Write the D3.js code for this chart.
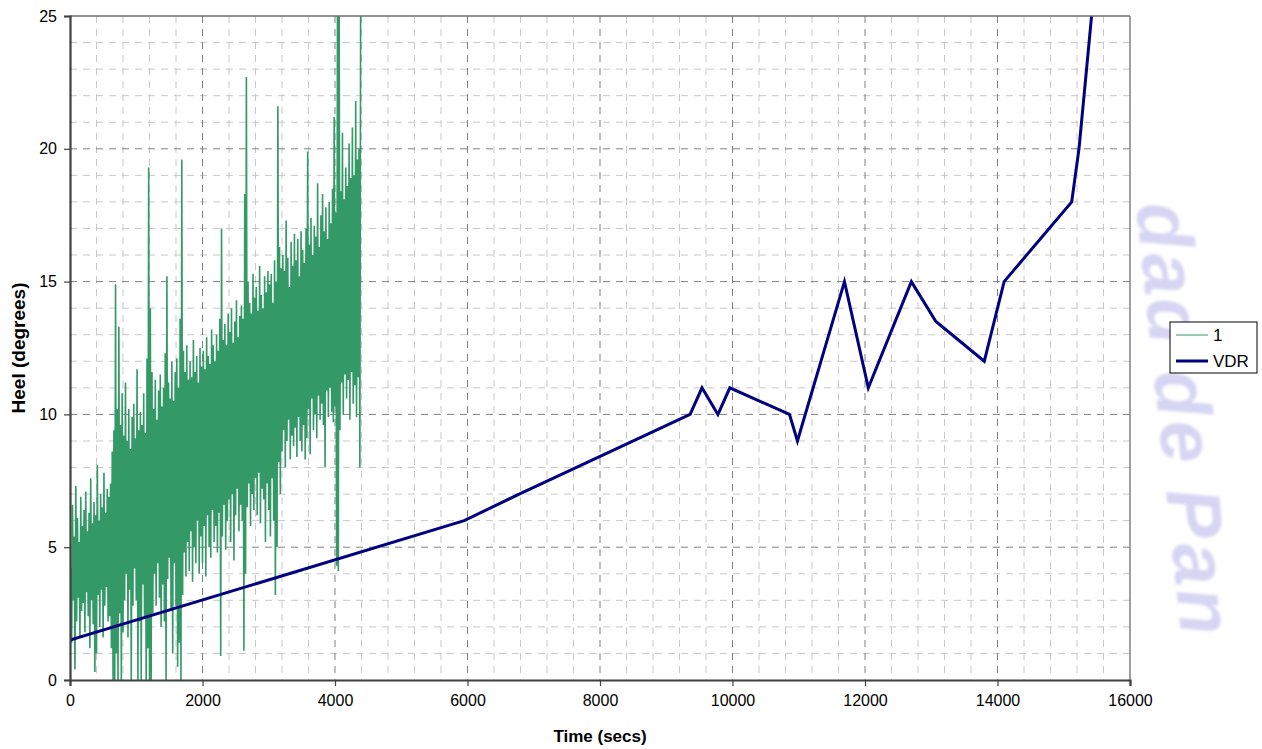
<!DOCTYPE html>
<html>
<head>
<meta charset="utf-8">
<script src="https://cdn.jsdelivr.net/npm/d3@7"></script>
<style>
  body { margin: 0; background: #fff; }
  svg { display: block; }
  text { font-family: "Liberation Sans", Arial, sans-serif; }
</style>
</head>
<body>
<svg id="chart" width="1262" height="749"></svg>
<script>
// ---- axis ticks ----
const xTicks = [0, 2000, 4000, 6000, 8000, 10000, 12000, 14000, 16000];
const yTicks = [0, 5, 10, 15, 20, 25];

// ---- VDR heel record (time in s, heel in degrees) ----
const vdrTime = [0, 5950, 6780, 9360, 9540, 9780, 9960, 10860, 10980, 11690, 12050, 12700, 13070, 13800, 14100, 15120, 15230, 15420];
const vdrHeel = [1.5, 6, 7, 10, 11, 10, 11, 10, 9, 15, 11, 15, 13.5, 12, 15, 18, 20, 25];

// ---- simulation run "1": min / max heel per 25 s block ----
const runStep = 25;
const runHigh = [
  4.2, 6.6, 5.4, 7.3, 6.1, 5.2, 6.9, 5.8,
  6.4, 7.1, 5.6, 6.3, 7.6, 5.9, 6.7, 6.2,
  8.1, 6.0, 7.0, 6.5, 7.8, 6.3, 7.2, 6.9,
  7.4, 8.6, 9.4, 14.9, 10.2, 13.3, 9.6, 10.8,
  9.2, 11.2, 9.0, 10.2, 8.7, 9.9, 10.4, 9.1,
  11.7, 9.4, 10.1, 9.6, 10.8, 9.3, 12.1, 19.3,
  14.0, 11.6, 10.2, 11.3, 9.8, 10.9, 11.5, 10.3,
  11.0, 12.3, 15.2, 11.2, 10.6, 12.0, 10.5, 11.6,
  12.1, 11.0, 13.6, 19.6, 12.4, 11.6, 12.6, 11.3,
  12.0, 11.4, 12.8, 11.6, 12.2, 11.2, 12.5, 11.8,
  12.4, 11.7, 12.9, 12.2, 11.9, 13.2, 12.6, 12.0,
  13.0, 12.4, 13.6, 17.0, 12.8, 13.4, 12.6, 13.8,
  13.1, 14.0, 12.7, 13.5, 14.3, 12.9, 13.7, 14.1,
  13.6, 18.3, 22.7, 15.0, 14.2, 13.8, 15.3, 14.4,
  14.8, 13.9, 15.6, 14.5, 14.0, 15.2, 14.6, 15.4,
  14.9, 15.3, 14.2, 15.8, 15.0, 21.6, 16.3, 15.5,
  16.0, 15.4, 17.3, 15.9, 14.8, 16.5, 15.6, 16.8,
  15.8, 16.6, 15.2, 16.9, 16.2, 15.7, 17.0, 19.9,
  16.4, 17.4, 16.0, 17.1, 16.7, 18.7, 16.3, 17.5,
  18.3, 16.9, 17.8, 16.6, 18.0, 17.2, 18.5, 21.2,
  17.6, 26.0, 26.0, 18.4, 20.6, 18.1, 19.3, 18.6,
  20.2, 18.9, 20.8, 19.0, 21.8, 19.6, 20.0, 26.0
];
const runLow = [
  3.6, 1.4, 3.0, 0.4, 2.2, 3.1, 1.6, 2.6,
  2.9, 1.8, 3.3, 2.4, 1.2, 3.0, 2.1, 0.3,
  1.0, 3.2, 2.0, 3.4, 1.6, 2.8, 3.5, 2.2,
  2.4, 1.2, 0.0, 0.0, 1.0, 0.0, 2.5, 0.0,
  1.8, 3.0, 4.0, 1.6, 3.4, 0.0, 2.8, 4.2,
  3.0, 0.0, 2.2, 0.0, 3.6, 2.4, 0.0, 1.2,
  0.0, 0.0, 2.5, 4.0, 2.8, 4.4, 3.1, 2.0,
  3.6, 2.2, 0.0, 3.8, 4.6, 2.6, 1.0, 4.4,
  2.8, 0.5, 1.4, 0.0, 3.2, 4.8, 3.9, 5.2,
  4.1, 5.6, 3.7, 5.0, 4.4, 6.0, 4.0, 5.4,
  4.4, 5.8, 3.9, 6.2, 5.0, 4.6, 6.4, 5.2,
  5.8, 4.8, 6.3, 0.9, 5.4, 6.6, 4.9, 6.0,
  6.8, 5.2, 7.0, 4.5, 6.2, 7.2, 5.6, 6.6,
  6.0, 1.1, 4.0, 6.5, 7.4, 5.8, 7.0, 6.4,
  7.6, 6.2, 7.8, 5.9, 7.2, 6.8, 5.2, 7.4,
  6.4, 5.4, 7.6, 6.0, 3.2, 5.0, 8.2, 7.0,
  8.6, 9.4, 8.0, 9.0, 9.8, 8.3, 9.2, 8.8,
  9.5, 8.4, 9.9, 9.0, 8.6, 9.6, 8.3, 9.1,
  10.2, 8.5, 10.6, 9.4, 10.0, 9.1, 10.7, 9.8,
  10.4, 9.6, 8.0, 10.9, 9.9, 11.0, 10.1, 9.7,
  10.3, 4.3, 4.1, 9.4, 11.2, 10.0, 11.5, 10.6,
  11.3, 9.8, 11.6, 10.4, 11.1, 9.9, 11.4, 8.0
];

const svg = d3.select("#chart");
const margin = { left: 70, top: 16, right: 132, bottom: 69 };
const W = 1262, H = 749;
const x = d3.scaleLinear().domain([0, 16000]).range([margin.left, W - margin.right]);
const y = d3.scaleLinear().domain([0, 25]).range([H - margin.bottom, margin.top]);

const defs = svg.append("defs");
defs.append("filter").attr("id", "soft")
  .append("feGaussianBlur").attr("stdDeviation", 1.6);

// faint background seal lettering, set glyph by glyph along a steep baseline
const sealText = "dad de Pan";
const sealAngle = 84, sealSize = 76;
const seal = svg.append("g").attr("filter", "url(#soft)");
const measure = svg.append("text")
  .attr("font-family", "Liberation Serif, serif").attr("font-style", "italic")
  .attr("font-weight", "bold").attr("font-size", sealSize).attr("visibility", "hidden");
let advance = 0;
const rad = sealAngle * Math.PI / 180;
for (const ch of sealText) {
  measure.text(ch === " " ? "\u00a0" : ch);
  const w = measure.node().getComputedTextLength();
  if (ch !== " ") {
    seal.append("text")
      .attr("transform", `translate(${1136 + advance * Math.cos(rad)},${205 + advance * Math.sin(rad)}) rotate(${sealAngle})`)
      .attr("font-family", "Liberation Serif, serif").attr("font-style", "italic")
      .attr("font-weight", "bold").attr("font-size", sealSize)
      .attr("fill", "#d6d5f3")
      .text(ch);
  }
  advance += w * 1.08;
}
measure.remove();

const plot = svg.append("g");

// grid: minor then major
const xMinor = d3.range(400, 16000, 400).filter(v => v % 2000 !== 0);
const yMinor = d3.range(1, 25, 1).filter(v => v % 5 !== 0);
plot.append("g").selectAll("line").data(xMinor).join("line")
  .attr("x1", d => x(d)).attr("x2", d => x(d))
  .attr("y1", y(25)).attr("y2", y(0))
  .attr("stroke", "#c8c8c8").attr("stroke-dasharray", "7,6");
plot.append("g").selectAll("line").data(yMinor).join("line")
  .attr("y1", d => y(d)).attr("y2", d => y(d))
  .attr("x1", x(0)).attr("x2", x(16000))
  .attr("stroke", "#c8c8c8").attr("stroke-dasharray", "7,6");
plot.append("g").selectAll("line").data(xTicks.slice(1, -1)).join("line")
  .attr("x1", d => x(d)).attr("x2", d => x(d))
  .attr("y1", y(25)).attr("y2", y(0))
  .attr("stroke", "#808080").attr("stroke-dasharray", "7,6");
plot.append("g").selectAll("line").data(yTicks.slice(1, -1)).join("line")
  .attr("y1", d => y(d)).attr("y2", d => y(d))
  .attr("x1", x(0)).attr("x2", x(16000))
  .attr("stroke", "#808080").attr("stroke-dasharray", "7,6");

// clip to plot area
defs.append("clipPath").attr("id", "plotClip")
  .append("rect").attr("x", x(0)).attr("y", y(25))
  .attr("width", x(16000) - x(0)).attr("height", y(0) - y(25));

// run "1": alternate low/high of each block
const runPts = [];
runHigh.forEach((hi, i) => {
  runPts.push([i * runStep, runLow[i]]);
  runPts.push([i * runStep + runStep / 2, hi]);
});
const line = d3.line().x(d => x(d[0])).y(d => y(d[1]));
plot.append("path").datum(runPts)
  .attr("clip-path", "url(#plotClip)")
  .attr("d", line)
  .attr("fill", "none").attr("stroke", "#339966").attr("stroke-width", 1.6)
  .attr("stroke-linejoin", "bevel");

// VDR line
plot.append("path").datum(vdrTime.map((t, i) => [t, vdrHeel[i]]))
  .attr("clip-path", "url(#plotClip)")
  .attr("d", line)
  .attr("fill", "none").attr("stroke", "#000080").attr("stroke-width", 3)
  .attr("stroke-linejoin", "miter");

// frame
svg.append("line").attr("x1", x(0)).attr("x2", x(16000)).attr("y1", y(25)).attr("y2", y(25))
  .attr("stroke", "#6e6e6e").attr("stroke-width", 1.5);
svg.append("line").attr("x1", x(16000)).attr("x2", x(16000)).attr("y1", y(25)).attr("y2", y(0))
  .attr("stroke", "#808080").attr("stroke-width", 1.5);

// axes
const xAxis = svg.append("g").attr("transform", `translate(0,${y(0)})`)
  .call(d3.axisBottom(x).tickValues(xTicks).tickSize(6).tickPadding(9).tickFormat(d3.format("d")));
const yAxis = svg.append("g").attr("transform", `translate(${x(0)},0)`)
  .call(d3.axisLeft(y).tickValues(yTicks).tickSize(6).tickPadding(7).tickFormat(d3.format("d")));
[xAxis, yAxis].forEach(g => {
  g.select(".domain").attr("stroke", "#404040").attr("stroke-width", 2.2);
  g.selectAll(".tick line").attr("stroke", "#404040").attr("stroke-width", 1.2);
  g.selectAll(".tick text").attr("fill", "#000").attr("font-size", 16)
    .attr("font-family", "Liberation Sans, Arial, sans-serif");
});

// axis titles
svg.append("text").attr("x", (x(0) + x(16000)) / 2).attr("y", 742)
  .attr("text-anchor", "middle").attr("font-weight", "bold").attr("font-size", 17)
  .text("Time (secs)");
svg.append("text").attr("transform", `translate(25,${(y(0) + y(25)) / 2}) rotate(-90)`)
  .attr("text-anchor", "middle").attr("font-weight", "bold").attr("font-size", 19)
  .text("Heel (degrees)");

// legend
const legend = svg.append("g").attr("transform", "translate(1170,322)");
legend.append("rect").attr("width", 87).attr("height", 51)
  .attr("fill", "#fff").attr("stroke", "#000").attr("stroke-width", 1);
const items = [
  { name: "1", color: "#339966", width: 1 },
  { name: "VDR", color: "#000080", width: 3 }
];
items.forEach((it, i) => {
  const yy = 13 + i * 26;
  legend.append("line").attr("x1", 6).attr("x2", 38).attr("y1", yy).attr("y2", yy)
    .attr("stroke", it.color).attr("stroke-width", it.width);
  legend.append("text").attr("x", 43).attr("y", yy + 6).attr("font-size", 17).text(it.name);
});
</script>
</body>
</html>
